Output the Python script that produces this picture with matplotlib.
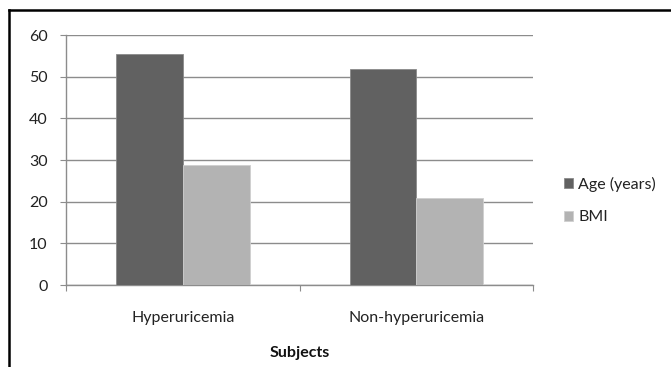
import numpy as np
import matplotlib
matplotlib.use("Agg")
import matplotlib.pyplot as plt
from matplotlib.lines import Line2D

categories = ["Hyperuricemia", "Non-hyperuricemia"]
age = [55.4, 51.8]
bmi = [28.9, 20.8]
series_names = ["Age (years)", "BMI"]

plt.rcParams['font.family'] = ['Lato', 'DejaVu Sans']
fs = 11.5

fig = plt.figure(figsize=(6.71, 3.67), dpi=100)
ax = fig.add_axes([0.0991, 0.2234, 0.6952, 0.6812])

x = np.arange(len(categories))
w = 0.2857
b1 = ax.bar(x - w/2, age, w, color="#616161", edgecolor="#8a8a8a", linewidth=0.6, label=series_names[0], zorder=3)
b2 = ax.bar(x + w/2, bmi, w, color="#b3b3b3", edgecolor="#cfcfcf", linewidth=0.6, label=series_names[1], zorder=3)

ax.set_xlim(-0.5, 1.5)
ax.set_ylim(0, 60)
ax.set_yticks(range(0, 61, 10))
ax.yaxis.grid(True, color="#8c8c8c", linewidth=1.0, zorder=0)
ax.set_axisbelow(True)

for s in ["top", "right"]:
    ax.spines[s].set_visible(False)
for s in ["left", "bottom"]:
    ax.spines[s].set_color("#8c8c8c")
    ax.spines[s].set_linewidth(1.0)

# major ticks between categories, labels at centres
ax.set_xticks([-0.5, 0.5, 1.5])
ax.set_xticklabels([])
ax.set_xticks(x, minor=True)
ax.set_xticklabels(categories, minor=True)
ax.tick_params(axis="x", which="major", direction="out", length=4.5, color="#8c8c8c")
ax.tick_params(axis="x", which="minor", length=0, pad=18.5, labelsize=fs, labelcolor="#222222")
ax.tick_params(axis="y", direction="out", length=4.5, color="#8c8c8c", pad=9, labelsize=fs, labelcolor="#222222")

ax.set_xlabel("Subjects", fontsize=fs, fontweight="bold", labelpad=15, color="#111111")

ax.legend(handles=[b1, b2], loc="center left", bbox_to_anchor=(1.035, 0.338),
          frameon=False, handlelength=0.6, handleheight=0.6, handletextpad=0.3,
          labelspacing=1.15, fontsize=fs, labelcolor="#222222")

# chart frame (top and left edges visible)
fig.add_artist(Line2D([9/671, 1], [1 - 10/367, 1 - 10/367], color="black", linewidth=1.8, transform=fig.transFigure))
fig.add_artist(Line2D([9/671, 9/671], [0, 1 - 10/367], color="black", linewidth=1.8, transform=fig.transFigure))

fig.savefig("out.png", dpi=100)
